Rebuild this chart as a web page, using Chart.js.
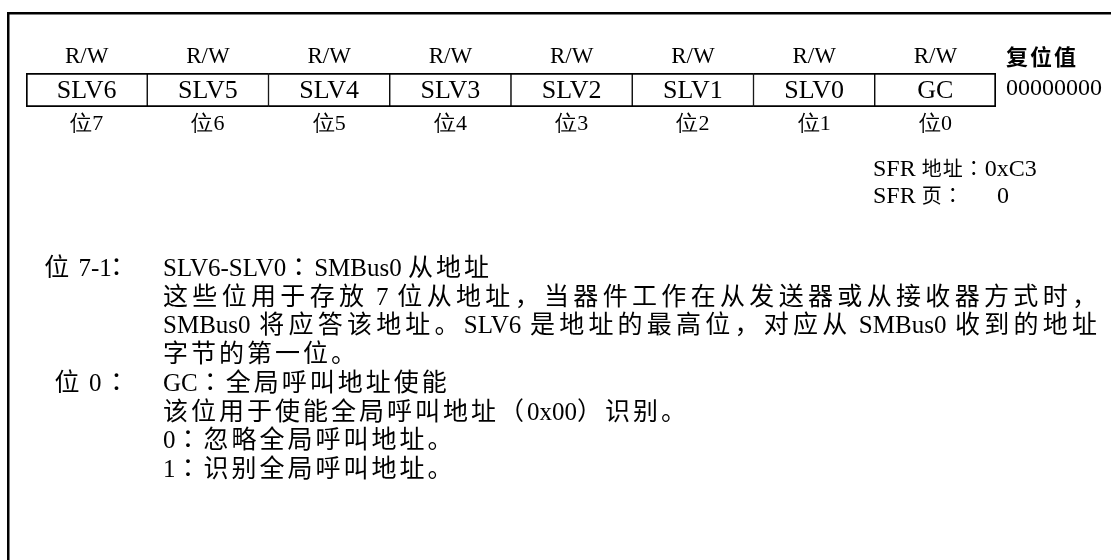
<!DOCTYPE html>
<html>
<head>
<meta charset="utf-8">
<script src="https://cdn.jsdelivr.net/npm/chart.js@4.4.1/dist/chart.umd.min.js"></script>
<style>
  html, body { margin: 0; padding: 0; background: #fff; }
  canvas { display: block; }
</style>
</head>
<body>
<canvas id="reg-chart" width="1111" height="560"></canvas>
<script>
// register layout, bit 7 first
const bitLabels = ['位7', '位6', '位5', '位4', '位3', '位2', '位1', '位0'];
const fieldNames = ['SLV6', 'SLV5', 'SLV4', 'SLV3', 'SLV2', 'SLV1', 'SLV0', 'GC'];
const accessTypes = ['R/W', 'R/W', 'R/W', 'R/W', 'R/W', 'R/W', 'R/W', 'R/W'];
const cellValues = [1, 1, 1, 1, 1, 1, 1, 1];

const resetLabel = '复位值';
const resetValue = '00000000';
const sfrAddressLine = 'SFR 地址：0xC3';
const sfrPageLine = 'SFR 页：';
const sfrPage = '0';

// bit descriptions
const descLabels = ['位 7-1', '', '', '', '位 0', '', '', ''];
const descLines = [
  'SLV6-SLV0：SMBus0 从地址',
  '这些位用于存放 7 位从地址，当器件工作在从发送器或从接收器方式时，',
  'SMBus0 将应答该地址。SLV6 是地址的最高位，对应从 SMBus0 收到的地址',
  '字节的第一位。',
  'GC：全局呼叫地址使能',
  '该位用于使能全局呼叫地址（0x00）识别。',
  '0：忽略全局呼叫地址。',
  '1：识别全局呼叫地址。'
];
const descJustify = [false, true, true, false, false, false, false, false];

const LATIN = '"Liberation Serif", "Times New Roman", serif';
const CJK = '"Noto Sans CJK SC", sans-serif';
const CJK_COLON = '"Noto Sans CJK JP", "Noto Sans CJK SC", sans-serif';
const isCJK = ch => /[\u3000-\u303f\u4e00-\u9fff\uff00-\uffef]/.test(ch);

// split into tokens: single CJK chars, latin runs, spaces
function tokenize(text) {
  const out = [];
  let run = '';
  for (const ch of text) {
    if (isCJK(ch) || ch === ' ') {
      if (run) { out.push({ t: run, cjk: false }); run = ''; }
      out.push({ t: ch, cjk: isCJK(ch) });
    } else {
      run += ch;
    }
  }
  if (run) out.push({ t: run, cjk: false });
  return out;
}

function fontFor(tk, o) {
  if (!tk.cjk) return `${o.lat}px ${LATIN}`;
  const fam = tk.t === '：' ? CJK_COLON : CJK;
  return `${o.bold ? 'bold ' : ''}${o.cjk}px ${fam}`;
}

function drawRich(ctx, text, x, y, o) {
  const tokens = tokenize(text);
  const pad = o.pad || 0;
  let natural = 0;
  tokens.forEach(tk => {
    ctx.font = fontFor(tk, o);
    tk.w = ctx.measureText(tk.t).width + (tk.cjk ? pad : 0);
    natural += tk.w;
  });
  let gap = 0;
  if (o.width && tokens.length > 1) gap = (o.width - natural) / (tokens.length - 1);
  let cx = x;
  if (o.align === 'right') cx = x - natural;
  if (o.align === 'center') cx = x - natural / 2;
  ctx.textBaseline = 'alphabetic';
  ctx.textAlign = 'left';
  ctx.fillStyle = '#000';
  tokens.forEach(tk => {
    ctx.font = fontFor(tk, o);
    if (tk.t !== ' ') ctx.fillText(tk.t, cx, y);
    cx += tk.w + gap;
  });
}

const registerText = {
  id: 'registerText',
  beforeDraw(chart) {
    const ctx = chart.ctx;
    ctx.save();
    ctx.lineWidth = 2.5;
    ctx.strokeStyle = '#000';
    ctx.strokeRect(8.25, 13.25, 1300, 1000);
    ctx.restore();
  },
  afterDatasetsDraw(chart) {
    const ctx = chart.ctx;
    const meta = chart.getDatasetMeta(0);
    const area = chart.chartArea;
    ctx.save();
    ctx.fillStyle = '#000';
    ctx.textAlign = 'center';
    ctx.textBaseline = 'middle';
    ctx.font = `26px ${LATIN}`;
    meta.data.forEach((bar, i) => {
      ctx.fillText(fieldNames[i], bar.x, (area.top + area.bottom) / 2 + 1);
    });

    // reset value
    drawRich(ctx, resetLabel, 1006, 65, { lat: 23, cjk: 22, pad: 2, bold: true });
    drawRich(ctx, resetValue, 1006, 95, { lat: 24, cjk: 22 });

    // SFR info
    drawRich(ctx, sfrAddressLine, 873, 176, { lat: 24, cjk: 20, pad: 1 });
    drawRich(ctx, sfrPageLine, 873, 203, { lat: 24, cjk: 20, pad: 1 });
    drawRich(ctx, sfrPage, 997, 203, { lat: 24, cjk: 20 });

    // descriptions
    const body = { lat: 25, cjk: 25, pad: 3 };
    descLines.forEach((line, i) => {
      const y = 276 + i * 28.7;
      if (descLabels[i]) {
        drawRich(ctx, descLabels[i], 78, y, Object.assign({ align: 'center' }, body));
        drawRich(ctx, '：', 104, y, body);
      }
      drawRich(ctx, line, 163, y, Object.assign({ width: descJustify[i] ? 937 : 0 }, body));
    });
    ctx.restore();
  }
};

new Chart(document.getElementById('reg-chart'), {
  type: 'bar',
  data: {
    labels: bitLabels,
    datasets: [{
      data: cellValues,
      backgroundColor: '#fff',
      borderColor: '#000',
      borderWidth: ctx => ({
        top: 2,
        bottom: 2,
        left: ctx.dataIndex === 0 ? 2 : 1,
        right: ctx.dataIndex === cellValues.length - 1 ? 2 : 1
      }),
      borderSkipped: false,
      barPercentage: 1,
      categoryPercentage: 1
    }]
  },
  options: {
    responsive: false,
    animation: false,
    events: [],
    layout: { padding: { left: 26, right: 115, top: 0, bottom: 423 } },
    plugins: { legend: { display: false }, tooltip: { enabled: false } },
    scales: {
      x: {
        type: 'category',
        position: 'bottom',
        offset: true,
        grid: { display: false, drawTicks: false },
        border: { display: false },
        ticks: { color: '#000', padding: 4, maxRotation: 0, autoSkip: false, font: { family: LATIN, size: 22 } },
        afterFit: scale => { scale.height = 30; }
      },
      xTop: {
        type: 'category',
        position: 'top',
        labels: accessTypes,
        offset: true,
        grid: { display: false, drawTicks: false },
        border: { display: false },
        ticks: { color: '#000', padding: 2, maxRotation: 0, autoSkip: false, font: { family: LATIN, size: 23 } },
        afterFit: scale => { scale.height = 73; }
      },
      y: { display: false, min: 0, max: 1 }
    }
  },
  plugins: [registerText]
});
</script>
</body>
</html>
